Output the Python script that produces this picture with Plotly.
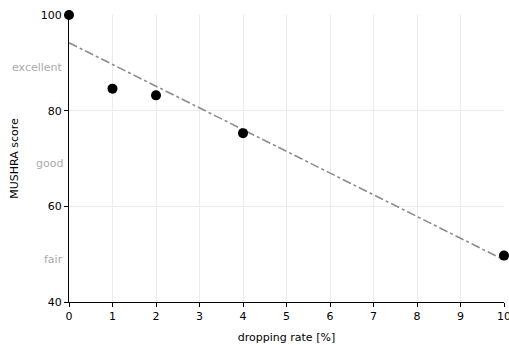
import plotly.graph_objects as go

rates = [0, 1, 2, 4, 10]
scores = [100, 84.6, 83.2, 75.3, 49.7]
fit_x = [0, 10]
fit_y = [94.2, 48.8]
quality_labels = ["excellent", "good", "fair"]
quality_levels = [90, 70, 50]

fig = go.Figure()
fig.add_trace(go.Scatter(x=fit_x, y=fit_y, mode="lines",
                         line=dict(color="#8c8c8c", width=1.6, dash="dashdot"),
                         showlegend=False, cliponaxis=False))
fig.add_trace(go.Scatter(x=rates, y=scores, mode="markers",
                         marker=dict(color="black", size=10),
                         showlegend=False, cliponaxis=False))

for lab, lv in zip(quality_labels, quality_levels):
    fig.add_annotation(x=0, y=lv, xref="paper", yref="y", text=lab,
                       showarrow=False, xanchor="right", xshift=-4, yshift=-5,
                       font=dict(color="#aaaaaa", size=11))

fig.update_layout(
    width=509, height=345,
    margin=dict(l=69, r=5, t=15, b=43),
    plot_bgcolor="white", paper_bgcolor="white",
    font=dict(family="DejaVu Sans", size=11, color="black"),
)
fig.update_xaxes(range=[0, 10], dtick=1, showline=True, linecolor="black", linewidth=1,
                 ticks="outside", ticklen=4, tickcolor="black", ticklabeloverflow="allow",
                 automargin=False,
                 showgrid=True, gridcolor="#ebebeb", zeroline=False,
                 title=dict(text="dropping rate [%]", font=dict(size=11), standoff=11))
fig.update_yaxes(range=[40, 100], tickvals=[40, 60, 80, 100], showline=True,
                 linecolor="black", linewidth=1, ticks="outside", ticklen=4,
                 automargin=False,
                 tickcolor="black", showgrid=True, gridcolor="#ebebeb", zeroline=False,
                 title=dict(text="MUSHRA score", font=dict(size=11), standoff=19))

fig.write_html("out.html", config={"displayModeBar": False},
               post_script="document.body.style.margin='0';")
